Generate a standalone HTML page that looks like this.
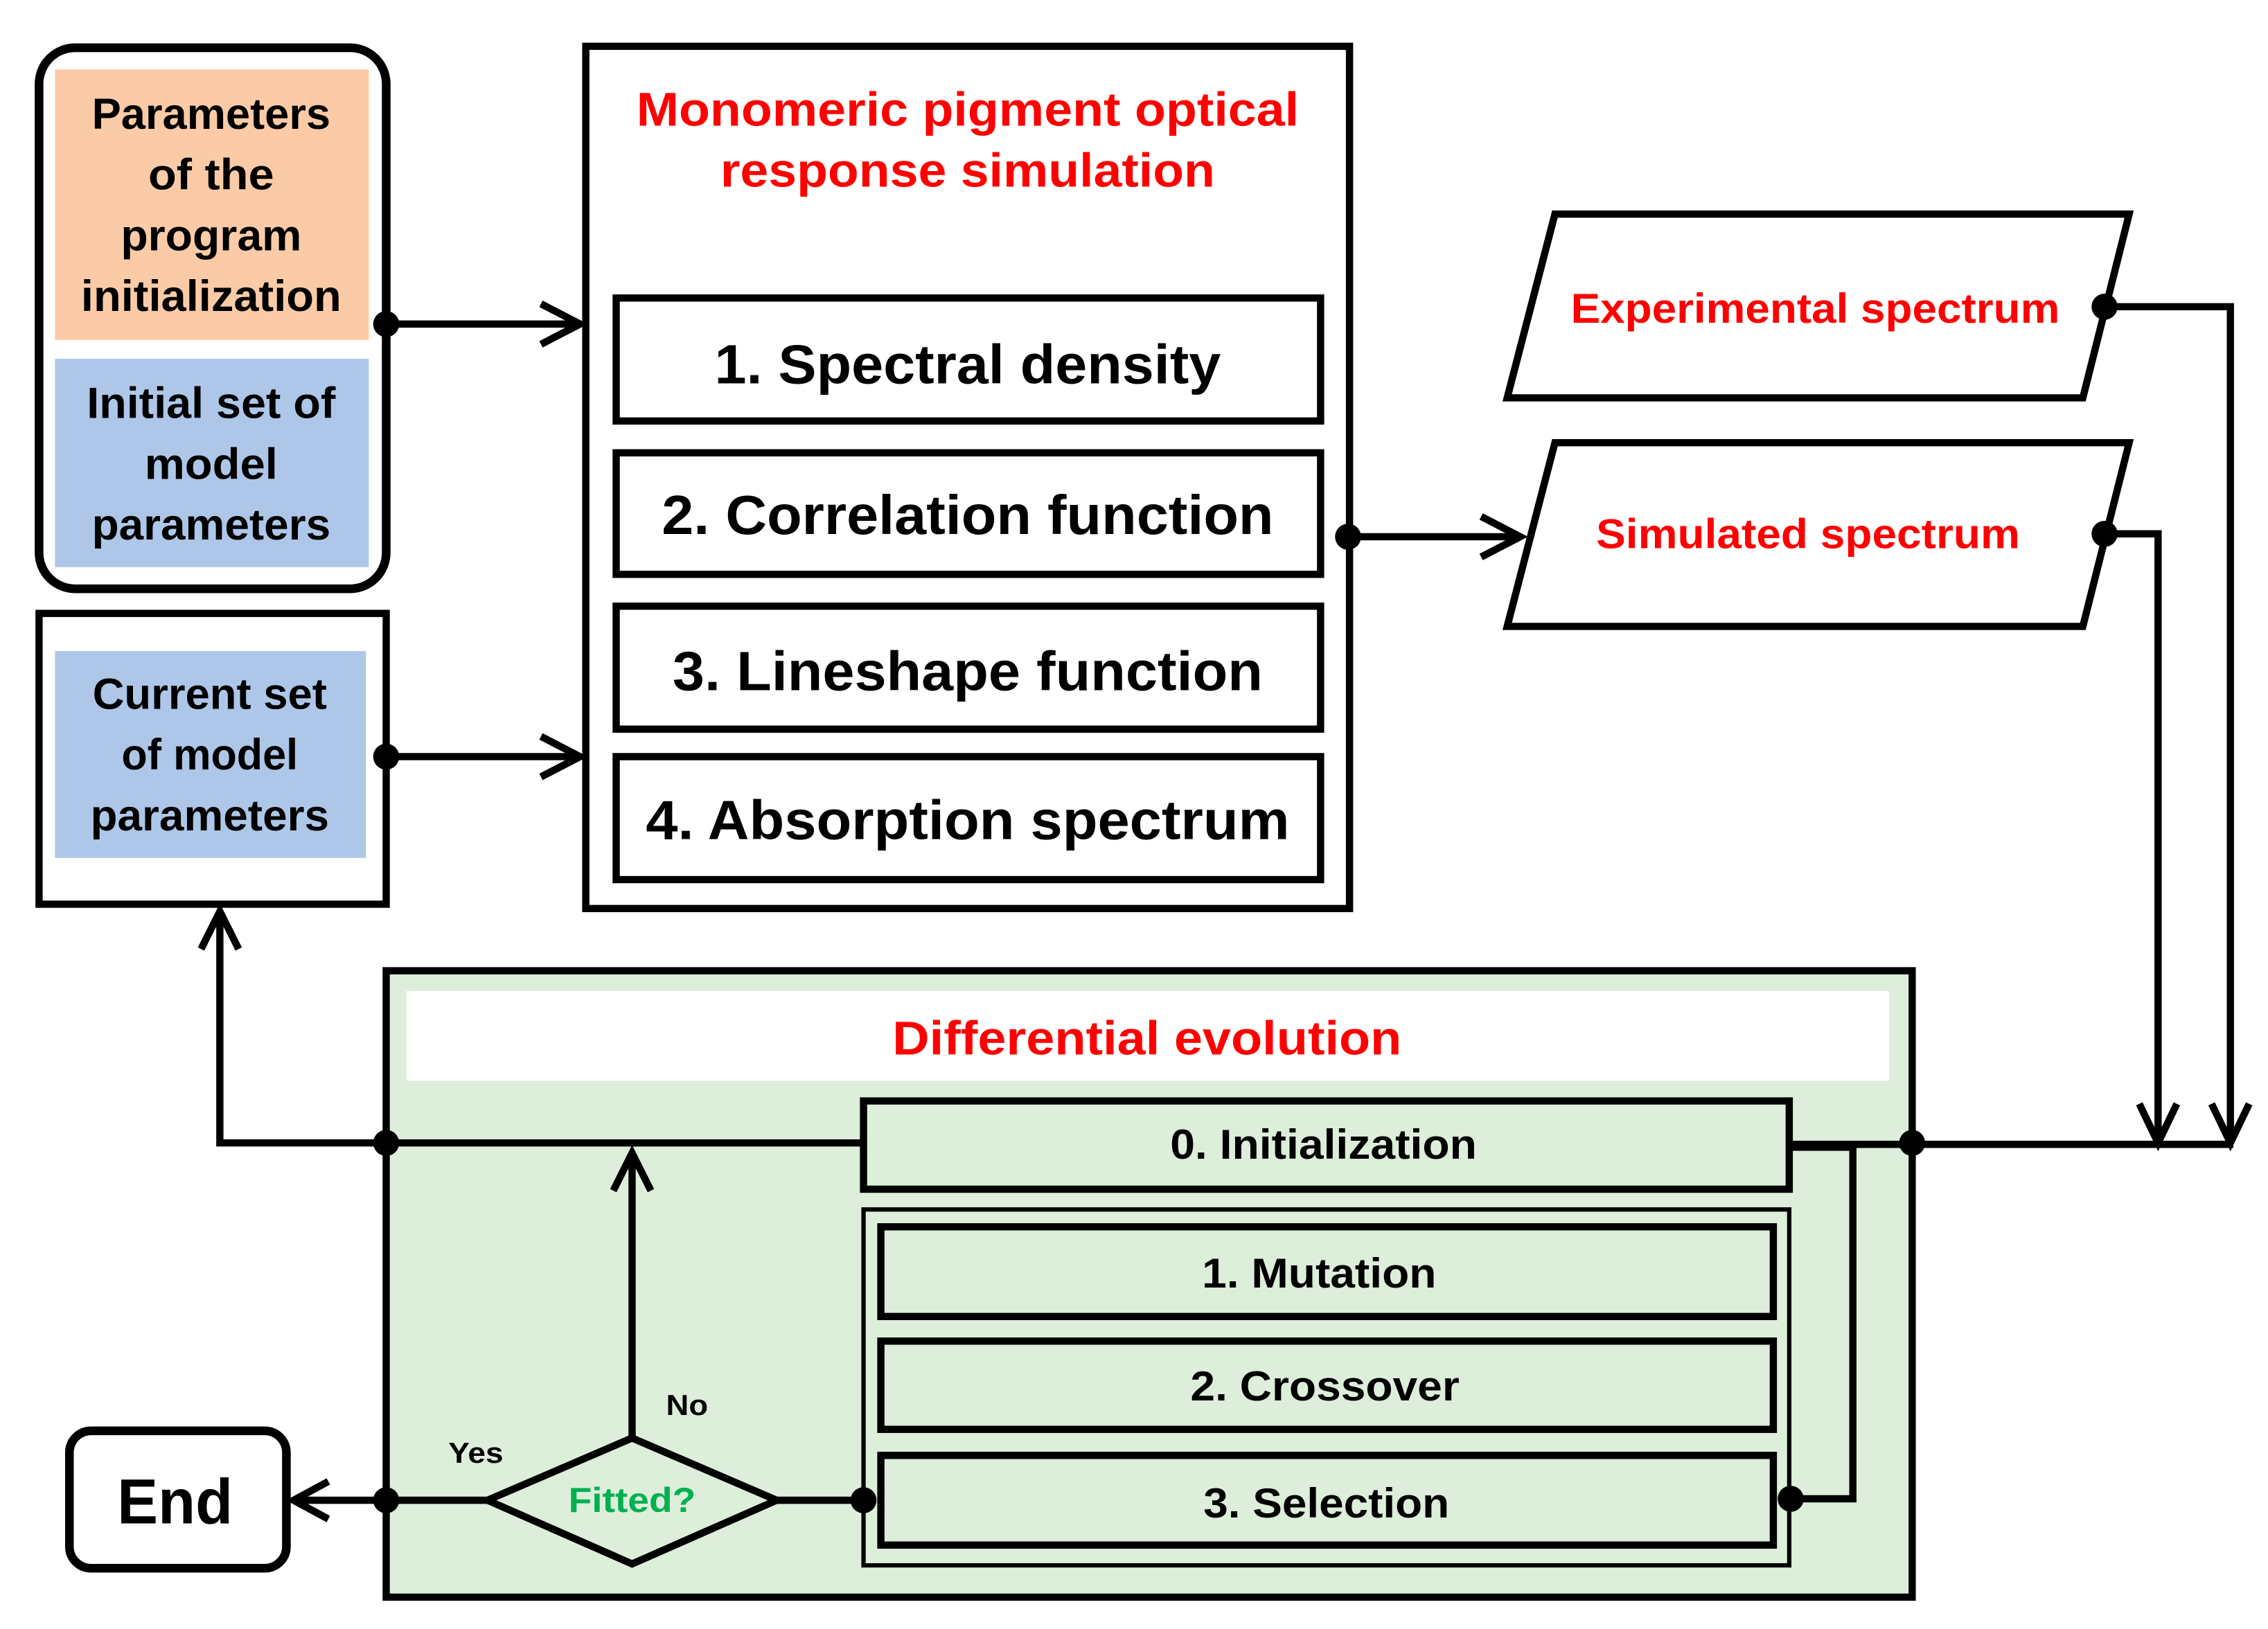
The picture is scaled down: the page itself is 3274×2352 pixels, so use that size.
<!DOCTYPE html>
<html><head><meta charset="utf-8"><style>html,body{margin:0;padding:0;background:#fff}svg{display:block}text{font-family:"Liberation Sans",sans-serif;font-weight:bold}</style></head>
<body>
<svg width="3274" height="2352" viewBox="0 0 1568 1126" preserveAspectRatio="none" xmlns="http://www.w3.org/2000/svg">
<g fill="none" stroke="#000" stroke-width="5">
<rect x="27" y="33" width="240" height="374" rx="25" stroke-width="6"/>
<rect x="27" y="424" width="240" height="201"/>
<rect x="405" y="32" width="528" height="596"/>
<rect x="426" y="206" width="487" height="85"/>
<rect x="426" y="313" width="487" height="84"/>
<rect x="426" y="419" width="487" height="85"/>
<rect x="426" y="523" width="487" height="85"/>
<polygon points="1075,148 1472,148 1440,275 1042,275"/>
<polygon points="1075,306 1472,306 1440,433 1042,433"/>
</g>
<rect x="38" y="48" width="217" height="187" fill="#FBCBA7"/>
<rect x="38" y="248" width="217" height="144" fill="#AEC7E8"/>
<rect x="38" y="450" width="215" height="143" fill="#AEC7E8"/>
<rect x="267" y="671" width="1055" height="433" fill="#DDEEDA" stroke="#000" stroke-width="5"/>
<rect x="281" y="685" width="1025" height="62" fill="#fff"/>
<g fill="none" stroke="#000">
<rect x="597" y="761" width="640" height="61" stroke-width="5"/>
<rect x="597" y="836" width="640" height="246" stroke-width="3"/>
<rect x="609" y="848" width="617" height="62" stroke-width="5"/>
<rect x="609" y="927" width="617" height="61" stroke-width="5"/>
<rect x="609" y="1006" width="617" height="62" stroke-width="5"/>
<rect x="48" y="989" width="150" height="95" rx="15" stroke-width="6"/>
<g stroke-width="5">
<line x1="267" y1="224" x2="401" y2="224"/><polyline points="374,210 401,224 374,238"/>
<line x1="267" y1="523" x2="401" y2="523"/><polyline points="374,509 401,523 374,537"/>
<line x1="932" y1="371" x2="1051" y2="371"/><polyline points="1024,357 1051,371 1024,385"/>
<polyline points="1455,212 1542,212 1542,790"/><polyline points="1529,763 1542,790 1555,763"/>
<polyline points="1455,369 1492,369 1492,790"/><polyline points="1479,763 1492,790 1505,763"/>
<line x1="1237" y1="791" x2="1544" y2="791"/>
<polyline points="1237,793 1281,793 1281,1036 1238,1036"/>
<polyline points="597,790 152,790 152,630"/><polyline points="139,656 152,630 165,656"/>
<line x1="437" y1="993" x2="437" y2="797"/><polyline points="424,823 437,797 450,823"/>
<line x1="537" y1="1037" x2="597" y2="1037"/>
<line x1="337" y1="1037" x2="203" y2="1037"/><polyline points="227,1024 203,1037 227,1050"/>
</g>
<polygon points="337,1037 437,994 537,1037 437,1081" fill="#DDEEDA" stroke-width="5"/>
</g>
<g fill="#000">
<circle cx="267" cy="224" r="9"/><circle cx="267" cy="523" r="9"/><circle cx="932" cy="371" r="9"/>
<circle cx="1455" cy="212" r="9"/><circle cx="1455" cy="369" r="9"/>
<circle cx="267" cy="790" r="9"/><circle cx="1322" cy="790" r="9"/>
<circle cx="597" cy="1037" r="9"/><circle cx="1238" cy="1036" r="9"/><circle cx="267" cy="1037" r="9"/>
</g>
<g text-anchor="middle" font-size="30" fill="#000">
<text x="146" y="89" textLength="165" lengthAdjust="spacingAndGlyphs">Parameters</text>
<text x="146" y="131" textLength="87" lengthAdjust="spacingAndGlyphs">of the</text>
<text x="146" y="173" textLength="125" lengthAdjust="spacingAndGlyphs">program</text>
<text x="146" y="215" textLength="180" lengthAdjust="spacingAndGlyphs">initialization</text>
<text x="146" y="289" textLength="172" lengthAdjust="spacingAndGlyphs">Initial set of</text>
<text x="146" y="331" textLength="92" lengthAdjust="spacingAndGlyphs">model</text>
<text x="146" y="373" textLength="165" lengthAdjust="spacingAndGlyphs">parameters</text>
<text x="145" y="490" textLength="162" lengthAdjust="spacingAndGlyphs">Current set</text>
<text x="145" y="532" textLength="122" lengthAdjust="spacingAndGlyphs">of model</text>
<text x="145" y="574" textLength="165" lengthAdjust="spacingAndGlyphs">parameters</text>
<text x="669" y="87" font-size="33" fill="#f00" textLength="458" lengthAdjust="spacingAndGlyphs">Monomeric pigment optical</text>
<text x="669" y="129" font-size="33" fill="#f00" textLength="342" lengthAdjust="spacingAndGlyphs">response simulation</text>
<text x="669" y="265" font-size="38" textLength="350" lengthAdjust="spacingAndGlyphs">1. Spectral density</text>
<text x="669" y="369" font-size="38" textLength="423" lengthAdjust="spacingAndGlyphs">2. Correlation function</text>
<text x="669" y="477" font-size="38" textLength="408" lengthAdjust="spacingAndGlyphs">3. Lineshape function</text>
<text x="669" y="580" font-size="38" textLength="445" lengthAdjust="spacingAndGlyphs">4. Absorption spectrum</text>
<text x="1255" y="223" font-size="29" fill="#f00" textLength="338" lengthAdjust="spacingAndGlyphs">Experimental spectrum</text>
<text x="1250" y="379" font-size="29" fill="#f00" textLength="293" lengthAdjust="spacingAndGlyphs">Simulated spectrum</text>
<text x="793" y="729" font-size="33" fill="#f00" textLength="352" lengthAdjust="spacingAndGlyphs">Differential evolution</text>
<text x="915" y="801" font-size="29" textLength="212" lengthAdjust="spacingAndGlyphs">0. Initialization</text>
<text x="912" y="890" font-size="29" textLength="162" lengthAdjust="spacingAndGlyphs">1. Mutation</text>
<text x="916" y="968" font-size="29" textLength="186" lengthAdjust="spacingAndGlyphs">2. Crossover</text>
<text x="917" y="1049" font-size="29" textLength="170" lengthAdjust="spacingAndGlyphs">3. Selection</text>
<text x="437" y="1045" font-size="24" fill="#00B050" textLength="88" lengthAdjust="spacingAndGlyphs">Fitted?</text>
<text x="475" y="978" font-size="20" font-weight="normal" textLength="29" lengthAdjust="spacingAndGlyphs">No</text>
<text x="329" y="1011" font-size="20" font-weight="normal" textLength="38" lengthAdjust="spacingAndGlyphs">Yes</text>
<text x="121" y="1053" font-size="44" textLength="80" lengthAdjust="spacingAndGlyphs">End</text>
</g>
</svg>
</body></html>
